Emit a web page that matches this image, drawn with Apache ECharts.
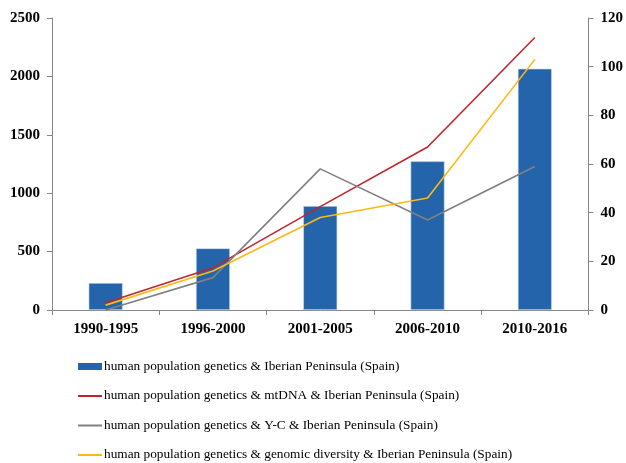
<!DOCTYPE html>
<html>
<head>
<meta charset="utf-8">
<script src="https://cdn.jsdelivr.net/npm/echarts@6/dist/echarts.min.js"></script>
<style>
  html, body { margin: 0; padding: 0; background: #fff; }
  #main { width: 626px; height: 463px; }
</style>
</head>
<body>
<div id="main"></div>
<script>
// data
var periods = ['1990-1995', '1996-2000', '2001-2005', '2006-2010', '2010-2016'];
var iberia = [231, 528, 890, 1273, 2066];
var mtdna = [3, 17.4, 42.5, 67, 112];
var yc = [0, 13.3, 58, 37, 59];
var genomic = [2, 16, 38, 46, 103];
var names = [
  'human population genetics & Iberian Peninsula (Spain)',
  'human population genetics & mtDNA & Iberian Peninsula (Spain)',
  'human population genetics & Y-C & Iberian Peninsula (Spain)',
  'human population genetics & genomic diversity & Iberian Peninsula (Spain)'
];
var leftTicks = [0, 500, 1000, 1500, 2000, 2500];
var rightTicks = [0, 20, 40, 60, 80, 100, 120];

(function () {
  var myChart = echarts.init(document.getElementById('main'));
  var serif = '"Liberation Serif", "Times New Roman", serif';
  var axisLine = { lineStyle: { color: '#868686', width: 1 } };
  var axisLab = { color: '#000', fontFamily: serif, fontWeight: 'bold', fontSize: 15 };
  var lineIcon = 'path://M0,0 L24,0 L24,2 L0,2 Z';
  var plain = function (v) { return String(v); };

  var option = {
    animation: false,
    textStyle: { fontFamily: serif },
    grid: { left: 52, right: 35, top: 18, bottom: 153 },
    legend: {
      orient: 'vertical',
      left: 78,
      top: 360,
      padding: 0,
      itemGap: 16.5,
      itemWidth: 24,
      itemHeight: 7,
      textStyle: { fontFamily: serif, fontSize: 13.3, color: '#000', padding: [0, 0, 0, -3] },
      data: [
        { name: names[0], icon: 'rect', itemStyle: { borderWidth: 0 } },
        { name: names[1], icon: lineIcon },
        { name: names[2], icon: lineIcon },
        { name: names[3], icon: lineIcon }
      ]
    },
    xAxis: {
      type: 'category',
      data: periods,
      axisLine: axisLine,
      axisTick: { show: true, length: 5, lineStyle: { color: '#868686' } },
      axisLabel: Object.assign({ margin: 12 }, axisLab)
    },
    yAxis: [
      {
        type: 'value',
        min: leftTicks[0],
        max: leftTicks[leftTicks.length - 1],
        interval: 500,
        axisLine: Object.assign({ show: true }, axisLine),
        axisTick: { show: true, length: 5, lineStyle: { color: '#868686' } },
        splitLine: { show: false },
        axisLabel: Object.assign({ margin: 12, formatter: plain }, axisLab)
      },
      {
        type: 'value',
        min: rightTicks[0],
        max: rightTicks[rightTicks.length - 1],
        interval: 20,
        axisLine: Object.assign({ show: true }, axisLine),
        axisTick: { show: true, length: 5, lineStyle: { color: '#868686' } },
        splitLine: { show: false },
        axisLabel: Object.assign({ margin: 12, formatter: plain }, axisLab)
      }
    ],
    series: [
      {
        name: names[0],
        type: 'bar',
        data: iberia,
        barWidth: 34,
        itemStyle: { color: '#2364AA', borderColor: '#D5E0EE', borderWidth: 0.6 }
      },
      {
        name: names[1],
        type: 'line',
        yAxisIndex: 1,
        data: mtdna,
        symbol: 'none',
        itemStyle: { color: '#C0272D' },
        lineStyle: { color: '#C0272D', width: 1.6 }
      },
      {
        name: names[2],
        type: 'line',
        yAxisIndex: 1,
        data: yc,
        symbol: 'none',
        itemStyle: { color: '#808080' },
        lineStyle: { color: '#808080', width: 1.6 }
      },
      {
        name: names[3],
        type: 'line',
        yAxisIndex: 1,
        data: genomic,
        symbol: 'none',
        itemStyle: { color: '#FDB913' },
        lineStyle: { color: '#FDB913', width: 1.6 }
      }
    ]
  };
  myChart.setOption(option, true);
})();
</script>
</body>
</html>
